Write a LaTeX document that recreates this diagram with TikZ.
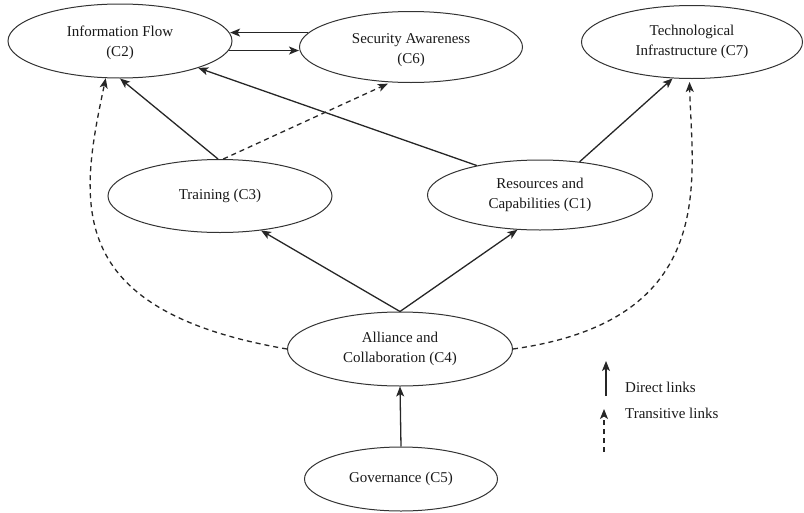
\documentclass[tikz,border=0pt]{standalone}
\usepackage{fontspec}
\setmainfont{Liberation Serif}
\usetikzlibrary{shapes.geometric,arrows.meta}
\begin{document}
\begin{tikzpicture}[x=1pt,y=-1pt,
  font=\fontsize{15}{20}\selectfont,
  el/.style={ellipse,draw=black!80,line width=1pt,inner sep=0pt},
  lbl/.style={align=center,text=black!90,inner sep=0pt},
  link/.style={draw=black!85,line width=1.3pt,-{Stealth[length=10pt,width=8pt,inset=2.5pt]}},
  trans/.style={link,dash pattern=on 5pt off 4pt}
]
\useasboundingbox (0,0) rectangle (804,512);

% concepts
\node[el,minimum width=224pt,minimum height=74pt,
  label={[lbl,yshift=-2pt]center:Information Flow\\(C2)}] (c2) at (120,41) {};
\node[el,minimum width=223pt,minimum height=71pt,
  label={[lbl,yshift=-3pt]center:Security Awareness\\(C6)}] (c6) at (411,47) {};
\node[el,minimum width=221pt,minimum height=73pt,
  label={[lbl]center:Technological\\Infrastructure (C7)}] (c7) at (692,42) {};
\node[el,minimum width=224pt,minimum height=73pt,
  label={[lbl]center:Training (C3)}] (c3) at (220,196) {};
\node[el,minimum width=225pt,minimum height=70pt,
  label={[lbl]center:Resources and\\Capabilities (C1)}] (c1) at (540,195) {};
\node[el,minimum width=225pt,minimum height=74pt,
  label={[lbl]center:Alliance and\\Collaboration (C4)}] (c4) at (400,349) {};
\node[el,minimum width=193pt,minimum height=64pt,
  label={[lbl]center:Governance (C5)}] (c5) at (401,479) {};

% direct links
\draw[link] (c6.172) -- (c6.172 -| c2.4);
\draw[link] (c2.355) -- (c2.355 -| c6.west);
\draw[link] (c3.93) -- (c2.south);
\draw[link] (c1.155) -- (c2.341);
\draw[link] (c1.40) -- (c7.242);
\draw[link] (c4.north) -- (c3.320);
\draw[link] (c4.north) -- (c1.237);
\draw[link] (c5.north) -- (c4.south);

% transitive links
\draw[trans,shorten >=3pt] (c3.85) -- (c6.240);
\draw[trans] (c4.west) .. controls (60,310) and (80,200) .. (c2.249);
\draw[trans,shorten >=3pt] (c4.east) .. controls (720,320) and (692,180) .. (c7.266);

% legend
\coordinate (d1) at (606,396);
\coordinate (d2) at (606,361);
\draw[link,line width=1.1pt] (d1) -- (d2);
\coordinate (t1) at (604,452);
\coordinate (t2) at (604,409);
\draw[trans,line width=1.1pt] (t1) -- (t2);
\node[lbl,anchor=west] (dl) at (625,387) {Direct links};
\node[lbl,anchor=west] (tl) at (625,413) {Transitive links};
\end{tikzpicture}
\end{document}
